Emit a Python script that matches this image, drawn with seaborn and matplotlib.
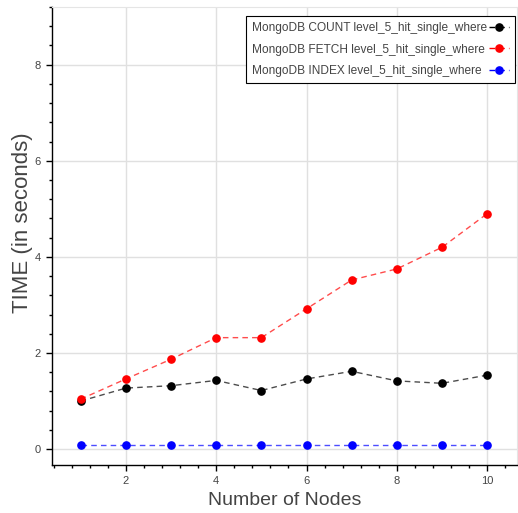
import matplotlib
matplotlib.use("Agg")
import matplotlib.pyplot as plt
from matplotlib.ticker import MultipleLocator
from matplotlib.lines import Line2D
import seaborn as sns
import pandas as pd

nodes = [1, 2, 3, 4, 5, 6, 7, 8, 9, 10]
count_vals = [1.00, 1.27, 1.32, 1.43, 1.22, 1.46, 1.62, 1.42, 1.37, 1.54]
fetch_vals = [1.04, 1.46, 1.87, 2.32, 2.32, 2.92, 3.52, 3.75, 4.20, 4.90]
index_vals = [0.08, 0.08, 0.08, 0.08, 0.08, 0.08, 0.08, 0.08, 0.08, 0.08]
labels = ["MongoDB COUNT level_5_hit_single_where",
          "MongoDB FETCH level_5_hit_single_where",
          "MongoDB INDEX level_5_hit_single_where"]
colors = ["black", "red", "blue"]

rows = []
for lab, vals in zip(labels, [count_vals, fetch_vals, index_vals]):
    for n, v in zip(nodes, vals):
        rows.append({"nodes": n, "time": v, "series": lab})
df = pd.DataFrame(rows)

sns.set_style("white")
plt.rcParams['font.family'] = ['Liberation Sans', 'DejaVu Sans']

DPI = 100
fig = plt.figure(figsize=(5.18, 5.13), dpi=DPI)
ax = fig.add_axes([52/518, 48/513, 465/518, 458/513])

dash = (0, (4, 3))
for lab, col in zip(labels, colors):
    sub = df[df.series == lab]
    sns.lineplot(data=sub, x="nodes", y="time", ax=ax, color=col,
                 linestyle=dash, linewidth=1.0, alpha=0.7, legend=False)
    ax.plot(sub.nodes, sub.time, linestyle='none', marker='o', markersize=5.2,
            color=col, markeredgecolor=col)

LFS = 8.6
handles = [Line2D([0], [0], color=c, linestyle=dash, linewidth=1.0,
                  marker='o', markersize=5.2) for c in colors]
leg = ax.legend(handles, labels, loc='upper left', bbox_to_anchor=(194/465, 449/458),
                markerfirst=False, frameon=True, fancybox=False, fontsize=LFS,
                handlelength=1.6, handletextpad=0.2, borderpad=0.5, labelspacing=0.8,
                borderaxespad=0.0)
leg.get_frame().set_edgecolor('black')
leg.get_frame().set_linewidth(0.8)
leg.get_frame().set_alpha(1)
for t in leg.get_texts():
    t.set_color('#444444')

ax.set_xlim(0.365, 10.66)
ax.set_ylim(-0.33, 9.2)
ax.xaxis.set_major_locator(MultipleLocator(2))
ax.xaxis.set_minor_locator(MultipleLocator(0.4))
ax.yaxis.set_major_locator(MultipleLocator(2))
ax.yaxis.set_minor_locator(MultipleLocator(0.4))
ax.grid(True, which='major', color='#e0e0e0', linewidth=1.0)
ax.set_axisbelow(True)

for s in ['top', 'right']:
    ax.spines[s].set_color('#e5e5e5')
for s in ['left', 'bottom']:
    ax.spines[s].set_color('black')
    ax.spines[s].set_linewidth(1.0)

ax.tick_params(axis='both', which='major', direction='out', length=4, width=1,
               color='black', labelsize=8, labelcolor='#444444', bottom=True, left=True, pad=4)
ax.tick_params(axis='both', which='minor', direction='out', length=2.2, width=1,
               color='black', bottom=True, left=True)

ax.set_xlabel("Number of Nodes", fontsize=14, color='#444444', labelpad=4)
ax.set_ylabel("TIME (in seconds)", fontsize=16, color='#444444')
ax.yaxis.set_label_coords(-0.041, 0.53)

# left-align legend texts, keep handles aligned on the right
fig.canvas.draw()
r = fig.canvas.get_renderer()
widths = [t.get_window_extent(r).width for t in leg.get_texts()]
maxw = max(widths)
col_box = leg._legend_handle_box.get_children()[0]
col_box.align = 'left'
for item, w in zip(col_box.get_children(), widths):
    item.sep = leg.handletextpad * LFS + (maxw - w) * 72 / DPI

fig.savefig("out.png", dpi=DPI)
